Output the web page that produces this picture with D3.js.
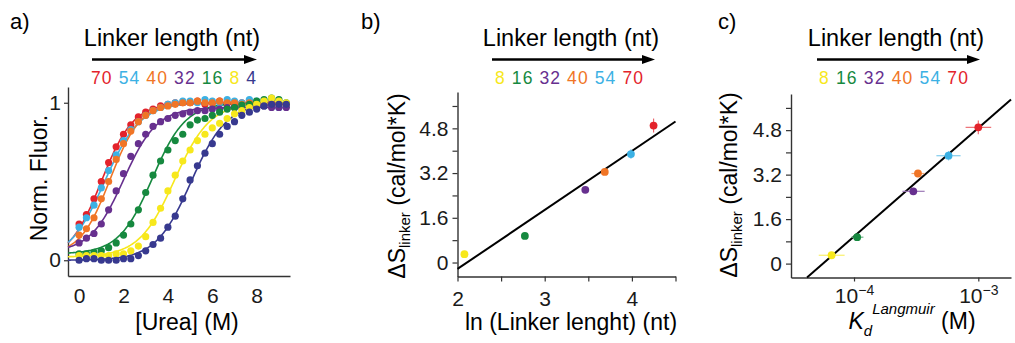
<!DOCTYPE html>
<html lang="en">
<head>
<meta charset="UTF-8" />
<script src="https://d3js.org/d3.v7.min.js"></script>
<title>Linker length</title>
<style>
  body { margin: 0; background: #fff; }
  svg { display: block; font-family: "Liberation Sans", Arial, sans-serif; }
</style>
</head>
<body>
<script>
// ---- panel a: urea denaturation, one series per linker length ----
const urea = [0, 0.33, 0.67, 1, 1.33, 1.67, 2, 2.33, 2.67, 3, 3.33, 3.67, 4, 4.33, 4.67,
  5, 5.33, 5.67, 6, 6.33, 6.67, 7, 7.33, 7.67, 8, 8.33, 8.67, 9, 9.33];
const linkerA = ["70", "54", "40", "32", "16", "8", "4"];
const fluor70 = [0.23,0.29,0.39,0.50,0.62,0.72,0.80,0.86,0.91,0.94,0.96,0.98,0.99,1.00,1.00,1.00,1.01,0.99,1.00,1.01,1.00,0.99,1.00,1.01,0.99,1.00,1.00,0.99,0.99];
const fluor54 = [0.21,0.27,0.35,0.46,0.57,0.67,0.76,0.83,0.88,0.92,0.95,0.97,0.99,1.00,1.01,1.01,1.00,1.02,1.01,1.00,1.02,1.01,1.00,1.02,1.01,0.99,1.00,0.97,0.98];
const fluor40 = [0.16,0.20,0.27,0.39,0.50,0.64,0.74,0.82,0.88,0.92,0.95,0.97,0.98,0.99,1.00,1.00,1.01,1.00,1.00,1.01,1.00,1.00,0.99,1.00,1.00,0.99,1.00,0.99,0.99];
const fluor32 = [0.11,0.14,0.17,0.23,0.32,0.44,0.55,0.66,0.74,0.80,0.85,0.88,0.90,0.92,0.93,0.94,0.95,0.95,0.96,0.96,0.97,0.97,0.97,0.98,0.98,0.98,0.97,0.97,0.97];
const fluor16 = [0.04,0.04,0.05,0.06,0.08,0.11,0.16,0.23,0.32,0.43,0.54,0.63,0.70,0.76,0.80,0.86,0.89,0.90,0.92,0.94,0.96,0.97,0.985,0.99,1.01,1.02,1.03,1.02,1.00];
const fluor8 = [0.03,0.03,0.03,0.03,0.03,0.04,0.04,0.06,0.09,0.15,0.24,0.33,0.44,0.54,0.63,0.70,0.76,0.80,0.84,0.87,0.90,0.93,0.95,0.97,0.99,1.01,1.03,1.01,1.00];
const fluor4 = [0.00,0.01,0.01,0.00,0.00,0.00,0.01,0.01,0.03,0.06,0.10,0.14,0.21,0.28,0.39,0.51,0.60,0.68,0.74,0.80,0.85,0.88,0.92,0.94,0.96,0.98,0.99,0.99,0.99];
// two-state fit
const fitMid = [1.0, 1.15, 1.4, 2.0, 3.3, 4.3, 5.05];
const fitWidth = [0.72, 0.8, 0.68, 0.75, 0.75, 0.8, 0.8];
const fitBase = [0, 0, 0.03, 0.05, 0.04, 0.02, 0];
const fitTop = [1, 1, 1, 0.97, 1, 1, 1];

// ---- panels b and c ----
const linkerBC = [8, 16, 32, 40, 54, 70];
const dS = [0.30, 0.95, 2.60, 3.24, 3.88, 4.90];
const dSerr = [0.03, 0.04, 0.05, 0.07, 0.17, 0.25];
const kd = [6.6e-5, 1.06e-4, 3.0e-4, 3.27e-4, 5.76e-4, 1.0e-3];
const kdLow = [5.2e-5, 9.5e-5, 2.45e-4, 2.9e-4, 4.6e-4, 7.9e-4];
const kdHigh = [8.4e-5, 1.19e-4, 3.7e-4, 3.7e-4, 7.2e-4, 1.27e-3];
const fitB = { intercept: -4.45, slope: 2.11 };   // dS vs ln(length)
const fitC = { intercept: 16.575, slope: 3.9 };   // dS vs log10(Kd)
const yTicksBC = [0, 0.8, 1.6, 2.4, 3.2, 4.0, 4.8, 5.6];

const colour = { "70": "#e3232b", "54": "#3cb1e4", "40": "#f07526", "32": "#67308f",
  "16": "#16893f", "8": "#f7e81c", "4": "#37398f" };
const fluor = [fluor70, fluor54, fluor40, fluor32, fluor16, fluor8, fluor4];

const svg = d3.select("body").append("svg").attr("width", 1015).attr("height", 343);
svg.append("rect").attr("width", 1015).attr("height", 343).attr("fill", "#fff");

function styleAxis(g, size) {
  g.attr("font-family", null).attr("font-size", size);
  g.select(".domain").attr("stroke", "#333").attr("stroke-width", 1.4);
  g.selectAll(".tick line").attr("stroke", "#333").attr("stroke-width", 1.2);
  g.selectAll(".tick text").attr("fill", "#1a1a1a");
}

function header(letter, lx, cx, x0, x1, n0, n1, nums) {
  svg.append("text").attr("x", lx).attr("y", 29).attr("font-size", 22).text(letter);
  svg.append("text").attr("x", cx).attr("y", 45.5).attr("text-anchor", "middle")
    .attr("font-size", 23.5).text("Linker length (nt)");
  svg.append("line").attr("x1", x0).attr("x2", x1 - 10).attr("y1", 59.5).attr("y2", 59.5)
    .attr("stroke", "#000").attr("stroke-width", 2.6);
  svg.append("path").attr("d", `M${x1},59.5L${x1 - 13},55L${x1 - 13},64Z`).attr("fill", "#000");
  const t = svg.append("text").attr("x", n0).attr("y", 84).attr("font-size", 17.5)
    .attr("textLength", n1 - n0).attr("lengthAdjust", "spacing");
  nums.forEach((n, i) => {
    t.append("tspan").attr("fill", colour[n]).text((i ? " " : "") + n);
  });
}

// ================= panel a =================
const xA = d3.scaleLinear().domain([-0.5, 9.5]).range([68, 290]);
const yA = d3.scaleLinear().domain([-0.1, 1.1]).range([276, 87]);

header("a)", 10, 172, 92, 257, 91, 256, linkerA);

const gAy = svg.append("g").attr("transform", "translate(68,0)")
  .call(d3.axisLeft(yA).tickValues([0, 1]).tickFormat(d3.format("d"))
    .tickSize(4).tickPadding(3).tickSizeOuter(0));
styleAxis(gAy, 21);
const gAx = svg.append("g").attr("transform", "translate(0,276)")
  .call(d3.axisBottom(xA).tickValues([0, 2, 4, 6, 8]).tickSize(0).tickPadding(12).tickSizeOuter(0));
styleAxis(gAx, 21);

const fitX = d3.range(-0.5, 9.51, 0.05);
const lineA = d3.line().x(d => xA(d[0])).y(d => yA(d[1]));
linkerA.forEach((n, k) => {
  const pts = fitX.map(x => [x, fitBase[k] + (fitTop[k] - fitBase[k]) / (1 + Math.exp(-(x - fitMid[k]) / fitWidth[k]))]);
  svg.append("path").attr("d", lineA(pts)).attr("fill", "none")
    .attr("stroke", colour[n]).attr("stroke-width", 1.6);
});
linkerA.forEach((n, k) => {
  svg.append("g").selectAll("circle").data(fluor[k]).join("circle")
    .attr("cx", (d, i) => xA(urea[i])).attr("cy", d => yA(d))
    .attr("r", 3.6).attr("fill", colour[n]);
});

svg.append("text").attr("transform", "translate(46.5,178) rotate(-90)")
  .attr("text-anchor", "middle").attr("font-size", 23).text("Norm. Fluor.");
svg.append("text").attr("x", 187).attr("y", 330).attr("text-anchor", "middle")
  .attr("font-size", 23).text("[Urea] (M)");

// ================= panel b =================
const xB = d3.scaleLinear().domain([2, 4.5]).range([457.5, 675.5]);
const yB = d3.scaleLinear().domain([-0.5, 6.1]).range([276.5, 92]);
const fmtY = d => (Math.round(d / 0.8) % 2 === 0 ? (d === 0 ? "0" : d.toFixed(1)) : "");

header("b)", 361, 571, 492, 655, 495, 643, linkerBC.map(String));

const gBy = svg.append("g").attr("transform", "translate(457.5,0)")
  .call(d3.axisLeft(yB).tickValues(yTicksBC).tickFormat(fmtY).tickSize(5).tickPadding(4).tickSizeOuter(0));
styleAxis(gBy, 21);
const gBx = svg.append("g").attr("transform", "translate(0,276.5)")
  .call(d3.axisBottom(xB).tickValues([2, 2.5, 3, 3.5, 4, 4.5])
    .tickFormat(d => (d % 1 === 0 ? d : "")).tickSize(5).tickPadding(10).tickSizeOuter(0));
styleAxis(gBx, 21);

svg.append("line")
  .attr("x1", xB(2)).attr("y1", yB(fitB.intercept + fitB.slope * 2))
  .attr("x2", xB(4.5)).attr("y2", yB(fitB.intercept + fitB.slope * 4.5))
  .attr("stroke", "#000").attr("stroke-width", 2);

const ptsB = svg.append("g").selectAll("g").data(linkerBC).join("g");
ptsB.append("line")
  .attr("x1", (d, i) => xB(Math.log(d))).attr("x2", (d, i) => xB(Math.log(d)))
  .attr("y1", (d, i) => yB(dS[i] - dSerr[i])).attr("y2", (d, i) => yB(dS[i] + dSerr[i]))
  .attr("stroke", d => d3.interpolateRgb(colour[d], "#fff")(0.3)).attr("stroke-width", 1.2);
ptsB.append("circle")
  .attr("cx", d => xB(Math.log(d))).attr("cy", (d, i) => yB(dS[i]))
  .attr("r", 3.9).attr("fill", d => colour[d]);

function yTitle(x, cy) {
  const t = svg.append("text").attr("transform", `translate(${x},${cy}) rotate(-90)`)
    .attr("text-anchor", "middle").attr("font-size", 23);
  t.append("tspan").text("\u0394S");
  t.append("tspan").attr("font-size", 15).attr("dy", 5).text("linker");
  t.append("tspan").attr("dy", -5).text(" (cal/mol*K)");
}
yTitle(405, 186);
svg.append("text").attr("x", 571).attr("y", 330).attr("text-anchor", "middle")
  .attr("font-size", 23).text("ln (Linker lenght) (nt)");

// ================= panel c =================
const xC = d3.scaleLog().domain([Math.pow(10, -4.507), Math.pow(10, -2.737)]).range([791, 1011]);
const yC = d3.scaleLinear().domain([-0.5, 6.1]).range([277.5, 94]);

header("c)", 718, 896, 817, 980, 819, 968, linkerBC.map(String));

const gCy = svg.append("g").attr("transform", "translate(791,0)")
  .call(d3.axisLeft(yC).tickValues(yTicksBC).tickFormat(fmtY).tickSize(5).tickPadding(4).tickSizeOuter(0));
styleAxis(gCy, 21);
const gCx = svg.append("g").attr("transform", "translate(0,277.5)")
  .call(d3.axisBottom(xC).tickValues([1e-4, 1e-3]).tickFormat(() => "").tickSize(4).tickSizeOuter(0));
styleAxis(gCx, 21);
gCx.selectAll(".tick").each(function (d) {
  const t = d3.select(this).append("text").attr("y", 25).attr("text-anchor", "middle")
    .attr("fill", "#1a1a1a").attr("font-size", 21);
  t.append("tspan").text("10");
  t.append("tspan").attr("font-size", 14).attr("dy", -8).text("\u2212" + Math.round(-Math.log10(d)));
});

const xStart = Math.pow(10, (yC.domain()[0] - fitC.intercept) / fitC.slope);
const xEnd = xC.domain()[1];
svg.append("line")
  .attr("x1", xC(xStart)).attr("y1", yC(fitC.intercept + fitC.slope * Math.log10(xStart)))
  .attr("x2", xC(xEnd)).attr("y2", yC(fitC.intercept + fitC.slope * Math.log10(xEnd)))
  .attr("stroke", "#000").attr("stroke-width", 2);

const ptsC = svg.append("g").selectAll("g").data(linkerBC).join("g");
const errCol = d => d3.interpolateRgb(colour[d], "#fff")(0.35);
ptsC.append("line")
  .attr("x1", (d, i) => xC(kdLow[i])).attr("x2", (d, i) => xC(kdHigh[i]))
  .attr("y1", (d, i) => yC(dS[i])).attr("y2", (d, i) => yC(dS[i]))
  .attr("stroke", errCol).attr("stroke-width", 1.2);
ptsC.append("line")
  .attr("x1", (d, i) => xC(kd[i])).attr("x2", (d, i) => xC(kd[i]))
  .attr("y1", (d, i) => yC(dS[i] - dSerr[i])).attr("y2", (d, i) => yC(dS[i] + dSerr[i]))
  .attr("stroke", errCol).attr("stroke-width", 1.2);
ptsC.append("circle")
  .attr("cx", (d, i) => xC(kd[i])).attr("cy", (d, i) => yC(dS[i]))
  .attr("r", 3.9).attr("fill", d => colour[d]);

yTitle(737, 185);
const kt = svg.append("text").attr("x", 912).attr("y", 329).attr("text-anchor", "middle")
  .attr("font-size", 23);
kt.append("tspan").attr("font-style", "italic").text("K");
kt.append("tspan").attr("font-style", "italic").attr("font-size", 15).attr("dy", 7).text("d");
kt.append("tspan").attr("font-style", "italic").attr("font-size", 15).attr("dy", -22).text("Langmuir");
kt.append("tspan").attr("dy", 15).text(" (M)");
</script>
</body>
</html>
